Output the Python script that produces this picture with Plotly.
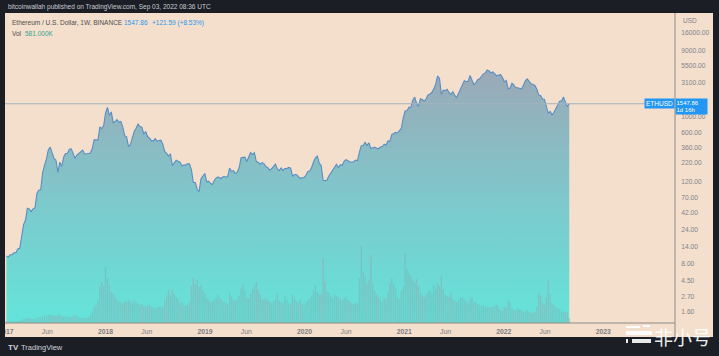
import numpy as np
import pandas as pd
import plotly.graph_objects as go

# ---------------- DATA (weekly closes, ETH/USD, week start Mondays) ----------------
close_2017 = [10.2, 9.8, 10.6, 10.6, 11.3,
              11.3, 12.8, 13.1, 19.2,
              28.5, 33, 49, 48,
              44, 48, 50, 80,
              90, 90, 160, 203, 250,
              340, 370, 304, 255,
              240, 160, 225, 195, 265,
              300, 300, 345, 350,
              295, 255, 285, 300,
              310, 335, 295, 295, 300,
              305, 350, 470, 465,
              470, 720, 680, 755]
close_2018 = [1150, 1370, 1050, 1180, 830,
              860, 920, 845, 865,
              720, 540, 520, 380,
              400, 500, 620, 690, 790,
              730, 715, 570, 620,
              520, 500, 455, 455,
              490, 450, 460, 465, 405,
              320, 300, 275, 295,
              200, 220, 240, 232,
              225, 200, 205, 204, 215,
              212, 175, 115, 115,
              92, 85, 130, 140, 155]
close_2019 = [117, 120, 112, 107,
              124, 134, 138, 132,
              135, 141, 137, 141,
              185, 167, 170, 155, 162,
              187, 260, 265, 265,
              230, 268, 310, 290,
              307, 230, 225, 210, 222,
              215, 195, 187, 172,
              181, 197, 211, 180, 170,
              186, 171, 182, 183,
              189, 184, 141, 150,
              150, 141, 132, 134, 136]
close_2020 = [146, 165, 168, 189,
              228, 260, 275, 218,
              200, 124, 122, 125, 143,
              158, 180, 197, 210,
              187, 207, 201, 231,
              245, 233, 228, 225, 228,
              241, 236, 310, 386,
              391, 433, 391, 428, 353,
              365, 370, 355, 352,
              371, 377, 407, 396,
              454, 447, 560, 575, 600,
              590, 640, 685, 975]
close_2021 = [1230, 1230, 1390, 1370,
              1740, 1930, 1570, 1420,
              1830, 1780, 1680, 1820, 2080,
              2140, 2240, 2530, 2950,
              3900, 3580, 2110, 2420, 2390,
              2500, 2250, 2090, 2320,
              2040, 1900, 2190, 2640,
              3010, 3310, 3230, 3230, 3930,
              3390, 2920, 3060, 3420,
              3520, 3850, 4150, 4290,
              4730, 4560, 4300, 4440, 4120,
              3880, 3990, 4050, 3680]
close_2022 = [3190, 3350, 2540, 2600, 3050,
              2870, 2620, 2620,
              2550, 2520, 2860, 3300, 3520,
              3210, 2990, 2920, 2830,
              2520, 2060, 2040, 1810, 1800,
              1450, 1130, 1200, 1070,
              1170, 1340, 1550, 1680,
              1700, 1935, 1620, 1426.27, 1547.86]

# weekly volume, thousands of ETH
vol_2017 = [250, 220, 200, 230, 210, 240, 260, 300, 380,
            450, 500, 620, 560, 480, 450, 520, 600,
            680, 650, 800, 850, 900, 950, 1000, 900, 850,
            800, 1000, 950, 800, 750, 800, 700, 750, 700,
            800, 950, 750, 650, 600, 650, 600, 580, 650,
            900, 1300, 1900, 2100, 2600, 4200, 4700, 4300]
vol_2018 = [6500, 5200, 4400, 3600, 3400,
            3000, 2700, 2500, 2400,
            2300, 2600, 2400, 2700,
            2500, 2300, 2600, 2400, 2200,
            2100, 2200, 1900, 2000,
            2000, 2100, 1900, 1800,
            1700, 1800, 1900, 1800, 1900,
            2600, 3200, 3800, 3100,
            3900, 3400, 3000, 2800,
            2300, 2400, 2100, 2000, 2100,
            2400, 4300, 5200, 4500,
            5000, 4200, 4400, 3800, 3400]
vol_2019 = [2900, 2600, 2400, 2500,
            2700, 2900, 3300, 2900,
            2600, 2400, 2300, 2200,
            3600, 3100, 2700, 2600, 2800,
            3200, 4100, 4500, 3800,
            3000, 2900, 3400, 3900,
            4400, 4800, 3800, 3300, 2800,
            2700, 2900, 2600, 2500,
            2300, 2500, 2700, 3400, 2600,
            2400, 2300, 3200, 2700,
            2300, 2200, 3300, 2800,
            2500, 2400, 2700, 2300, 2100]
vol_2020 = [2400, 2600, 2800, 3200,
            3800, 4400, 3600, 3300,
            3400, 7600, 4800, 3700, 3500,
            3200, 2900, 3300, 3100,
            3000, 2800, 2600, 2900,
            3000, 2700, 2500, 2300, 2200,
            2400, 2300, 5200, 9000,
            5900, 5400, 4600, 5000, 7900,
            4600, 3800, 3300, 3000,
            2700, 2500, 3000, 2800,
            3600, 4700, 5200, 4600, 4000,
            3000, 2700, 3800, 4200]
vol_2021 = [8100, 6200, 5800, 5400,
            5000, 4700, 5100, 4300,
            3500, 3200, 3000, 3300, 3600,
            3800, 3400, 4400, 4000,
            4600, 4300, 5500, 3900, 3300,
            3100, 3000, 3600, 2800,
            2600, 2400, 2700, 2900,
            3000, 2700, 2500, 2300, 2800,
            3000, 2400, 2500, 2200,
            2100, 2000, 2000, 1900,
            1900, 1800, 1900, 1800, 2000,
            2100, 1800, 1500, 1400]
vol_2022 = [1900, 1800, 2600, 2400, 1700,
            1500, 1500, 1700, 1600,
            1500, 1300, 1400, 1500,
            1300, 1200, 1200, 1300,
            1900, 3500, 3200, 2300, 2100,
            3000, 5000, 3300, 2300,
            2100, 1800, 1700, 1600,
            1300, 1400, 1300, 1200, 581]

y_ticks = [16000, 9000, 5500, 3100, 1000, 600, 360, 220, 120, 70, 42, 24, 14, 8, 4.5, 2.7, 1.6]
x_tick_dates = ["2017-01-01", "2017-06-01", "2018-01-01", "2018-06-01", "2019-01-01", "2019-06-01",
                "2020-01-01", "2020-06-01", "2021-01-01", "2021-06-01", "2022-01-01", "2022-06-01",
                "2023-01-01"]
x_tick_text = ["<b>2017</b>", "Jun", "<b>2018</b>", "Jun", "<b>2019</b>", "Jun", "<b>2020</b>", "Jun",
               "<b>2021</b>", "Jun", "<b>2022</b>", "Jun", "<b>2023</b>"]

close = close_2017 + close_2018 + close_2019 + close_2020 + close_2021 + close_2022
volume = vol_2017 + vol_2018 + vol_2019 + vol_2020 + vol_2021 + vol_2022
dates = pd.date_range("2017-01-02", periods=len(close), freq="7D")

last = close[-1]
prev = close[-2]

# ---------------- STYLE ----------------
BEIGE = "#f3dfcc"
DARK = "#1b1e25"
AXIS = "#8f8a86"
FONT = "Liberation Sans"
Y_RANGE = [0.0464, 4.4908]
X_RANGE = ["2016-12-28", "2023-09-21"]


def X(px):
    return (px - 5) / 670


def Y(py):
    return (323 - py) / 310


def ylog_paper(v):
    return (np.log10(v) - Y_RANGE[0]) / (Y_RANGE[1] - Y_RANGE[0])


vol_colors = ["rgba(118,182,184,0.55)" if i > 0 and close[i] >= close[i - 1] else "rgba(150,168,174,0.55)"
              for i in range(len(close))]

fig = go.Figure()
fig.add_trace(go.Scatter(
    x=dates, y=close, mode="lines",
    line=dict(color="#5a8ec3", width=1.1),
    fill="tozeroy",
    fillgradient=dict(type="vertical",
                      colorscale=[[0, "#63e4da"], [0.5, "#7fc7cb"], [1, "#9ba8b6"]],
                      start=10 ** Y_RANGE[0], stop=5000),
    hoverinfo="skip", showlegend=False,
))
fig.add_trace(go.Bar(
    x=dates, y=volume, yaxis="y2",
    marker=dict(color=vol_colors, line=dict(width=0)),
    hoverinfo="skip", showlegend=False,
))

shapes = [
    # last price line
    dict(type="line", xref="paper", yref="paper", x0=0, x1=X(645), y0=ylog_paper(last), y1=ylog_paper(last),
         line=dict(color="#a3b4c0", width=1), layer="above"),
    # axis borders
    dict(type="line", xref="paper", yref="paper", x0=1, x1=1, y0=Y(337), y1=1,
         line=dict(color=AXIS, width=1), layer="above"),
    dict(type="line", xref="paper", yref="paper", x0=0, x1=1, y0=0, y1=0,
         line=dict(color=AXIS, width=1), layer="above"),
    # dark frame
    dict(type="rect", xref="paper", yref="paper", x0=X(0) - 0.05, x1=X(719) + 0.05, y0=Y(13), y1=Y(0) + 0.05,
         fillcolor=DARK, line=dict(width=0), layer="above"),
    dict(type="rect", xref="paper", yref="paper", x0=X(0) - 0.05, x1=X(719) + 0.05, y0=Y(356) - 0.05, y1=Y(337),
         fillcolor=DARK, line=dict(width=0), layer="above"),
    dict(type="rect", xref="paper", yref="paper", x0=X(0) - 0.05, x1=X(5), y0=Y(356) - 0.05, y1=Y(0) + 0.05,
         fillcolor=DARK, line=dict(width=0), layer="above"),
    dict(type="rect", xref="paper", yref="paper", x0=X(713), x1=X(719) + 0.05, y0=Y(356) - 0.05, y1=Y(0) + 0.05,
         fillcolor=DARK, line=dict(width=0), layer="above"),
    # watermark logo strokes
    dict(type="line", xref="paper", yref="paper", x0=X(626), x1=X(640), y0=Y(327), y1=Y(327),
         line=dict(color="rgba(255,255,255,0.9)", width=2), layer="above"),
    dict(type="line", xref="paper", yref="paper", x0=X(643), x1=X(650), y0=Y(326), y1=Y(326),
         line=dict(color="rgba(255,255,255,0.9)", width=2), layer="above"),
    dict(type="line", xref="paper", yref="paper", x0=X(626), x1=X(652), y0=Y(333), y1=Y(333),
         line=dict(color="rgba(255,255,255,0.9)", width=4), layer="above"),
    dict(type="line", xref="paper", yref="paper", x0=X(626), x1=X(628), y0=Y(341), y1=Y(341),
         line=dict(color="rgba(255,255,255,0.9)", width=4), layer="above"),
    dict(type="line", xref="paper", yref="paper", x0=X(632), x1=X(651), y0=Y(341), y1=Y(341),
         line=dict(color="rgba(255,255,255,0.9)", width=4), layer="above"),
]


def ann(text, px, py, size=6.5, color="#4a4a4a", xanchor="left", **kw):
    d = dict(text=text, xref="paper", yref="paper", x=X(px), y=Y(py), xanchor=xanchor, yanchor="middle",
             showarrow=False, font=dict(family=FONT, size=size, color=color))
    d.update(kw)
    return d


chg = last - prev
pct = chg / prev * 100
annotations = [
    ann("bitcoinwallah published on TradingView.com, Sep 03, 2022 08:36 UTC", 6, 7, color="#c9ccd3"),
    ann("Ethereum / U.S. Dollar, 1W, BINANCE", 10, 23, color="#4d4d4d"),
    ann(f"{last:.2f}", 122, 23, color="#2a95ee"),
    ann(f"+{chg:.2f} (+{pct:.2f}%)", 150, 23, color="#2a95ee"),
    ann("Vol", 10, 33, color="#4d4d4d"),
    ann(f"{volume[-1]:.3f}K", 23, 33, color="#3aa394"),
    ann("USD", 681, 21, size=6.5, color="#80838c"),
    ann("<b>TV</b>", 6, 347, size=8, color="#d1d4dc"),
    ann("TradingView", 19, 347, size=7.5, color="#d1d4dc"),
    ann("非小号", 652, 336, size=19, color="rgba(255,255,255,0.92)",
        font=dict(family="Noto Sans CJK SC", size=19, color="rgba(255,255,255,0.92)")),
    dict(text="ETHUSD", xref="paper", yref="paper", x=1, y=ylog_paper(last), xanchor="right", yanchor="middle",
         showarrow=False, bgcolor="#2196f3", borderpad=1,
         font=dict(family=FONT, size=6.5, color="white")),
    dict(text=f"{last:.2f}<br>1d 16h", xref="paper", yref="paper", x=1, y=ylog_paper(last), xanchor="left",
         yanchor="top", yshift=6, showarrow=False, bgcolor="#2196f3", borderpad=0.5, align="left", width=30,
         font=dict(family=FONT, size=6.0, color="white")),
]

fig.update_layout(
    width=719, height=356,
    margin=dict(l=5, r=44, t=13, b=33, autoexpand=False),
    paper_bgcolor=BEIGE, plot_bgcolor=BEIGE,
    bargap=0.3,
    xaxis=dict(type="date", range=X_RANGE, showgrid=False, zeroline=False, showline=False,
               tickvals=x_tick_dates, ticktext=x_tick_text, ticks="outside", ticklen=2,
               ticklabeloverflow="allow", automargin=False,
               tickcolor="rgba(0,0,0,0)", tickfont=dict(family=FONT, size=6.8, color="#7b7d84")),
    yaxis=dict(type="log", range=Y_RANGE, side="right", showgrid=False, zeroline=False, showline=False,
               automargin=False,
               tickvals=y_ticks, ticktext=[f"{v:.2f}" for v in y_ticks], ticks="outside", ticklen=4,
               tickcolor="rgba(0,0,0,0)", tickfont=dict(family=FONT, size=6.7, color="#80838c")),
    yaxis2=dict(overlaying="y", range=[0, 36000], visible=False),
    shapes=shapes, annotations=annotations,
)

fig.write_html("out.html", config={"displayModeBar": False, "staticPlot": True},
               post_script="document.documentElement.style.margin='0';document.body.style.margin='0';"
                           "document.body.style.padding='0';document.body.style.overflow='hidden';")
